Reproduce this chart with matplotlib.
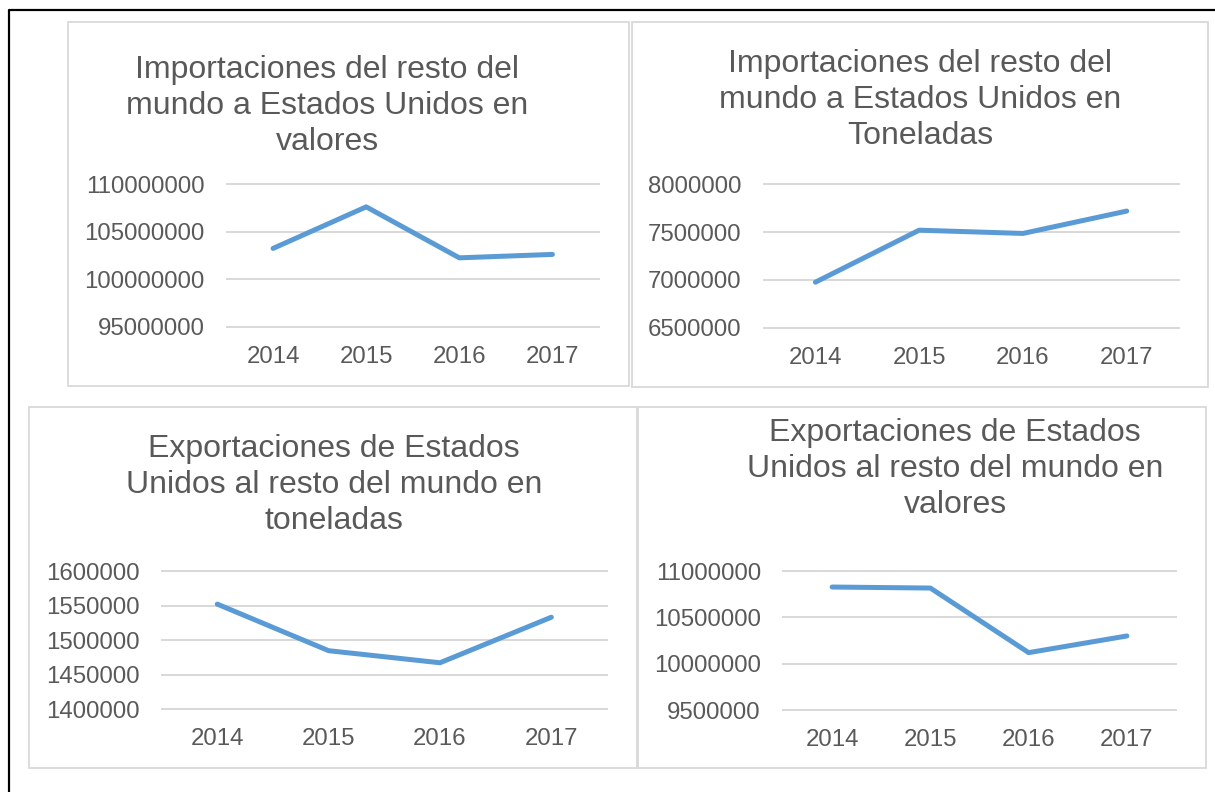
import matplotlib
matplotlib.use("Agg")
import matplotlib.pyplot as plt
from matplotlib.patches import Rectangle
from matplotlib.lines import Line2D
from matplotlib.ticker import FixedLocator, FuncFormatter

W, H = 1215, 792
DPI = 100

years = ["2014", "2015", "2016", "2017"]

imp_valores = [103260000, 107630000, 102270000, 102630000]
imp_toneladas = [6976000, 7520000, 7486000, 7720000]
exp_toneladas = [1552000, 1484500, 1467000, 1533000]
exp_valores = [10827000, 10816000, 10119000, 10299000]

ticks_imp_val = [95000000, 100000000, 105000000, 110000000]
ticks_imp_ton = [6500000, 7000000, 7500000, 8000000]
ticks_exp_ton = [1400000, 1450000, 1500000, 1550000, 1600000]
ticks_exp_val = [9500000, 10000000, 10500000, 11000000]

titles = [
    "Importaciones del resto del\nmundo a Estados Unidos en\nvalores",
    "Importaciones del resto del\nmundo a Estados Unidos en\nToneladas",
    "Exportaciones de Estados\nUnidos al resto del mundo en\ntoneladas",
    "Exportaciones de Estados\nUnidos al resto del mundo en\nvalores",
]

TEXT = "#595959"
GRID = "#D9D9D9"
LINE = "#5B9BD5"
FONT = ["Liberation Sans", "DejaVu Sans"]
plt.rcParams["font.family"] = FONT

fig = plt.figure(figsize=(W / DPI, H / DPI), dpi=DPI)
fig.patch.set_facecolor("white")


def fx(x):
    return x / W


def fy(y):
    return 1 - y / H


def px2pt(p):
    return p * 72 / DPI


# outer black border (top and left)
fig.add_artist(Line2D([fx(9), fx(9), fx(1215)], [fy(792), fy(10), fy(10)],
                      transform=fig.transFigure, color="black", lw=px2pt(2.2)))

# panel frames: (left, top, right, bottom) in pixels
panels = [(67.5, 22, 628.5, 385.5), (631.5, 22, 1207.5, 386.5),
          (29.5, 407, 636.5, 767.5), (638, 407, 1205.5, 768)]
for (l, t, r, b) in panels:
    fig.add_artist(Rectangle((fx(l), fy(b)), fx(r) - fx(l), fy(t) - fy(b),
                             transform=fig.transFigure, fill=False,
                             edgecolor=GRID, lw=px2pt(1.8)))

# plot areas: (left, top, right, bottom) in pixels
areas = [(226.5, 184.3, 599, 327), (763.5, 184.3, 1178.6, 327.7),
         (161.6, 571, 607, 709), (783, 571, 1176, 710)]
series = [imp_valores, imp_toneladas, exp_toneladas, exp_valores]
tick_sets = [ticks_imp_val, ticks_imp_ton, ticks_exp_ton, ticks_exp_val]
title_pos = [(327, 106), (920, 100), (334, 485), (955, 469)]

for area, vals, ticks, title, tp in zip(areas, series, tick_sets, titles, title_pos):
    l, t, r, b = area
    ax = fig.add_axes([fx(l), fy(b), fx(r) - fx(l), fy(t) - fy(b)])
    ax.set_facecolor("none")
    x = list(range(len(years)))
    ax.plot(x, vals, color=LINE, lw=px2pt(5.0), solid_capstyle="round",
            solid_joinstyle="round", zorder=3, clip_on=False)
    ax.set_xlim(-0.5, len(years) - 0.5)
    ax.set_ylim(ticks[0], ticks[-1])
    ax.yaxis.set_major_locator(FixedLocator(ticks))
    ax.yaxis.set_major_formatter(FuncFormatter(lambda v, p: f"{int(round(v))}"))
    ax.set_xticks(x)
    ax.set_xticklabels(years)
    for s in ax.spines.values():
        s.set_visible(False)
    ax.grid(axis="y", color=GRID, lw=px2pt(2.0))
    ax.grid(axis="x", visible=False)
    for gl in ax.get_ygridlines():
        gl.set_clip_on(False)
    ax.set_axisbelow(True)
    ax.tick_params(axis="both", length=0, labelsize=px2pt(24), colors=TEXT)
    ax.tick_params(axis="y", pad=px2pt(22))
    ax.tick_params(axis="x", pad=px2pt(19))
    fig.text(fx(tp[0]), fy(tp[1]), title, ha="center", va="center",
             multialignment="center", fontsize=px2pt(32), color=TEXT,
             linespacing=1.27)

fig.savefig("out.png", dpi=DPI, facecolor="white")
